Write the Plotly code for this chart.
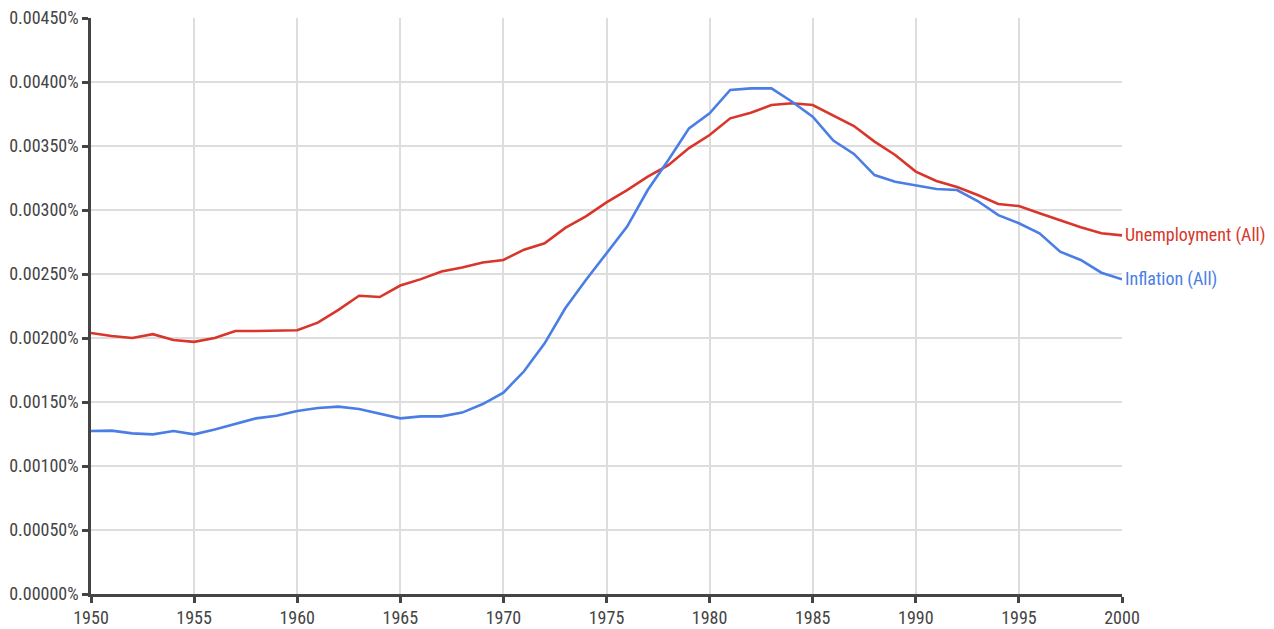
import plotly.graph_objects as go

years = list(range(1950, 2001))

unemployment = [
    0.002039, 0.002016, 0.002000, 0.002030, 0.001984, 0.001970, 0.002000, 0.002055, 0.002055, 0.002060,
    0.002060, 0.002120, 0.002220, 0.002330, 0.002320, 0.002410, 0.002460, 0.002520, 0.002550, 0.002590,
    0.002610, 0.002690, 0.002740, 0.002860, 0.002950, 0.003060, 0.003156, 0.003260, 0.003350, 0.003484,
    0.003586, 0.003716, 0.003760, 0.003820, 0.003834, 0.003820, 0.003740, 0.003656, 0.003534, 0.003430,
    0.003300, 0.003227, 0.003180, 0.003117, 0.003047, 0.003031, 0.002974, 0.002917, 0.002865, 0.002818,
    0.002802,
]

inflation = [
    0.001273, 0.001276, 0.001255, 0.001247, 0.001273, 0.001247, 0.001286, 0.001326, 0.001372, 0.001393,
    0.001430, 0.001453, 0.001464, 0.001445, 0.001411, 0.001372, 0.001388, 0.001388, 0.001417, 0.001484,
    0.001573, 0.001740, 0.001958, 0.002232, 0.002453, 0.002661, 0.002870, 0.003156, 0.003390, 0.003638,
    0.003755, 0.003938, 0.003950, 0.003950, 0.003846, 0.003729, 0.003542, 0.003438, 0.003273, 0.003221,
    0.003190, 0.003164, 0.003156, 0.003070, 0.002960, 0.002896, 0.002818, 0.002674, 0.002610, 0.002510,
    0.002458,
]

series = [
    ("Unemployment (All)", unemployment, "#d9362b"),
    ("Inflation (All)", inflation, "#4a7ee5"),
]

FONT = "Liberation Sans Narrow, Roboto Condensed, Arial Narrow, Roboto, sans-serif"

fig = go.Figure()
for name, vals, color in series:
    fig.add_trace(go.Scatter(x=years, y=vals, mode="lines", name=name,
                             line=dict(color=color, width=2.6), hoverinfo="x+y"))
    fig.add_annotation(x=years[-1], y=vals[-1], text=name, xref="x", yref="y",
                       xanchor="left", yanchor="middle", xshift=1, showarrow=False,
                       font=dict(family=FONT, size=18, color=color))

fig.update_layout(
    width=1274, height=629,
    margin=dict(l=91, r=152, t=18, b=35),
    paper_bgcolor="white", plot_bgcolor="white",
    showlegend=False,
    font=dict(family=FONT, size=18, color="#444444"),
)
fig.update_xaxes(
    range=[1950, 2000], tickmode="linear", tick0=1950, dtick=5,
    showgrid=True, gridcolor="#dddddd", gridwidth=1.5,
    showline=True, linecolor="#444444", linewidth=2.5,
    ticks="outside", ticklen=6, tickwidth=2.5, tickcolor="#444444",
    zeroline=False, automargin=False,
    tickfont=dict(family=FONT, size=18, color="#444444"),
)
fig.update_yaxes(
    range=[0, 0.0045], tickmode="linear", tick0=0, dtick=0.0005,
    tickformat=".5f", ticksuffix="%",
    showgrid=True, gridcolor="#dddddd", gridwidth=1.5,
    showline=True, linecolor="#444444", linewidth=2.5,
    ticks="outside", ticklen=6, tickwidth=2.5, tickcolor="#444444",
    zeroline=False, automargin=False,
    tickfont=dict(family=FONT, size=18, color="#444444"),
)

fig.write_html("out.html", config={"displayModeBar": False},
               post_script="document.body.style.margin='0';")
